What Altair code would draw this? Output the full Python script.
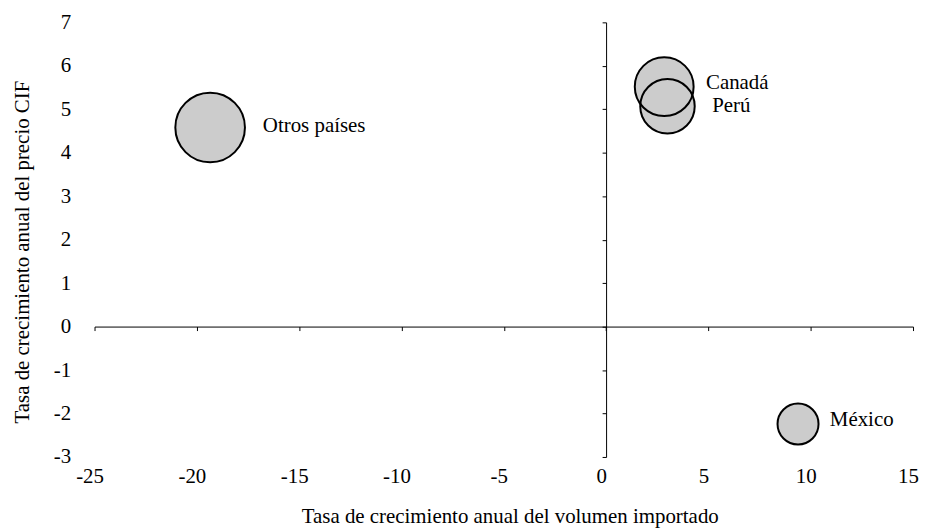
import altair as alt
import pandas as pd

# ---- data ----
paises = ["Otros países", "Canadá", "Perú", "México"]
crec_volumen = [-19.35, 2.84, 3.00, 9.38]      # x: tasa de crecimiento del volumen importado
crec_precio = [4.58, 5.52, 5.07, -2.24]        # y: tasa de crecimiento del precio CIF
participacion = [49, 35, 30, 17]               # bubble size (relative weight)

x_ticks = [-25, -20, -15, -10, -5, 0, 5, 10, 15]
y_ticks = [-3, -2, -1, 0, 1, 2, 3, 4, 5, 6, 7]

df = pd.DataFrame({
    "pais": paises,
    "vol": crec_volumen,
    "precio": crec_precio,
    "part": participacion,
})

# ---- layout / style ----
W, H = 823, 437
PAD_L, PAD_T = 87, 13
FONT = "Liberation Serif"
FS = 21
X_DOMAIN = [-25, 15]
Y_DOMAIN = [-3, 7]

x_scale = alt.Scale(domain=X_DOMAIN, nice=False, zero=False)
y_scale = alt.Scale(domain=Y_DOMAIN, nice=False, zero=False)
size_scale = alt.Scale(domain=[0, 50], range=[0, 5000])

# axes carrying labels and titles (at the outer edges)
x_label_axis = alt.Axis(
    orient="bottom",
    values=x_ticks, domain=False, ticks=False, tickSize=0, grid=False,
    labelPadding=9, labelFlush=False, labelOffset=-5,
    labelExpr="'' + datum.value",
    labelFont=FONT, labelFontSize=FS, labelColor="black",
    title="Tasa de crecimiento anual del volumen importado",
    titleFont=FONT, titleFontSize=FS, titleFontWeight="normal", titleColor="black",
    titleX=W / 2 + 6, titleY=60, titleBaseline="middle", titleAlign="center",
)
y_label_axis = alt.Axis(
    orient="left",
    values=y_ticks, domain=False, ticks=False, tickSize=0, grid=False,
    labelPadding=24, labelExpr="'' + datum.value",
    labelFont=FONT, labelFontSize=FS, labelColor="black",
    title="Tasa de crecimiento anual del precio CIF",
    titleFont=FONT, titleFontSize=FS, titleFontWeight="normal", titleColor="black",
    titleX=-72, titleY=H / 2 + 12, titleBaseline="middle", titleAlign="center",
    titleAngle=270,
)

# axes drawn through the origin (domain lines + ticks only)
x_zero_axis = alt.Axis(
    orient="bottom",
    values=x_ticks, labels=False, title=None, grid=False,
    domain=True, domainColor="black", domainWidth=1,
    ticks=True, tickColor="black", tickWidth=1, tickSize=4,
    offset=-H * 3 / 10,
)
y_zero_axis = alt.Axis(
    orient="left",
    values=y_ticks, labels=False, title=None, grid=False,
    domain=True, domainColor="black", domainWidth=1,
    ticks=True, tickColor="black", tickWidth=1, tickSize=4,
    offset=-W * 25 / 40,
)

base = alt.Chart(df)

fills = base.mark_circle(color="#cccccc", opacity=1, strokeWidth=0).encode(
    x=alt.X("vol:Q", scale=x_scale, axis=x_label_axis),
    y=alt.Y("precio:Q", scale=y_scale, axis=y_label_axis),
    size=alt.Size("part:Q", scale=size_scale, legend=None),
)

outlines = base.mark_point(
    shape="circle", filled=False, color="black", strokeWidth=2, opacity=1
).encode(
    x=alt.X("vol:Q", scale=x_scale, axis=x_zero_axis),
    y=alt.Y("precio:Q", scale=y_scale, axis=y_zero_axis),
    size=alt.Size("part:Q", scale=size_scale, legend=None),
)

label_offsets = {
    "Otros países": (53, -2),
    "Canadá": (42, -4),
    "Perú": (45, 0),
    "México": (32, -4),
}

labels = []
for name, (ddx, ddy) in label_offsets.items():
    labels.append(
        base.transform_filter(alt.datum.pais == name)
        .mark_text(align="left", baseline="middle", dx=ddx, dy=ddy,
                   font=FONT, fontSize=FS, color="black")
        .encode(
            x=alt.X("vol:Q", scale=x_scale, axis=None),
            y=alt.Y("precio:Q", scale=y_scale, axis=None),
            text="pais:N",
        )
    )

chart = (
    alt.layer(fills, outlines, *labels)
    .resolve_axis(x="independent", y="independent")
    .properties(
        width=W, height=H,
        autosize=alt.AutoSizeParams(type="none"),
        padding={"left": PAD_L, "top": PAD_T, "right": 6, "bottom": 70},
        background="white",
    )
    .configure_view(stroke=None)
)

chart.save("out.html", embed_options={"renderer": "svg", "actions": False})
